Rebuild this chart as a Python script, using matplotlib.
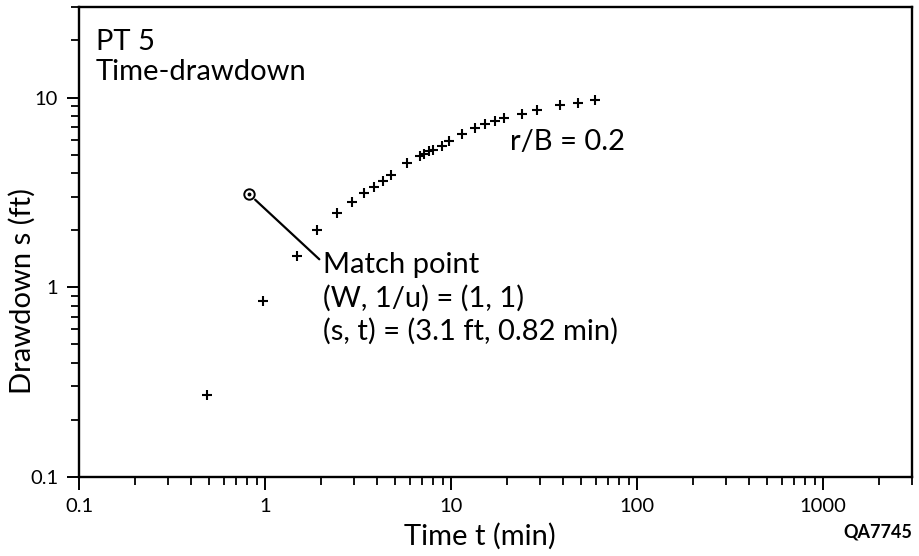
import matplotlib
matplotlib.use("Agg")
import matplotlib.pyplot as plt
from matplotlib.ticker import LogLocator, FixedLocator, FixedFormatter, NullFormatter

plt.rcParams['font.family'] = ['Lato', 'DejaVu Sans']

# time-drawdown readings, PT 5
time_min = [0.49, 0.98, 1.48, 1.91, 2.43, 2.93, 3.42, 3.86, 4.29, 4.74,
            5.82, 6.81, 7.16, 7.64, 7.97, 8.91, 9.79, 11.5, 13.5, 15.3,
            17.3, 19.3, 24.0, 29.1, 38.5, 48.3, 59.4]
drawdown_ft = [0.27, 0.846, 1.46, 2.0, 2.46, 2.81, 3.13, 3.39, 3.62, 3.91,
               4.51, 4.92, 5.06, 5.20, 5.26, 5.52, 5.87, 6.45, 6.92, 7.22,
               7.56, 7.79, 8.23, 8.57, 9.10, 9.41, 9.75]

# match point (s, t)
match_s = 3.1
match_t = 0.82

x_ticks = [0.1, 1, 10, 100, 1000]
x_labels = ['0.1', '1', '10', '100', '1000']
y_ticks = [0.1, 1, 10]
y_labels = ['0.1', '1', '10']

fig = plt.figure(figsize=(9.2, 5.56), dpi=100)
ax = fig.add_axes([79 / 920, 1 - 477 / 556, 833 / 920, 470 / 556])

ax.set_xscale('log')
ax.set_yscale('log')
ax.set_xlim(0.1, 3000)
ax.set_ylim(0.1, 30)

ax.plot(time_min, drawdown_ft, linestyle='none', marker='+', color='black',
        markersize=6.5, markeredgewidth=1.5)

ax.plot([match_t], [match_s], linestyle='none', marker='o', markerfacecolor='none',
        markeredgecolor='black', markersize=7.5, markeredgewidth=1.4)
ax.plot([match_t], [match_s], linestyle='none', marker='o', color='black', markersize=1.8)

ax.annotate('', xy=(match_t, match_s), xycoords='data',
            xytext=(0.2885, 0.4632), textcoords='axes fraction',
            arrowprops=dict(arrowstyle='-', lw=1.6, color='black', shrinkA=0, shrinkB=6))

ax.xaxis.set_major_locator(FixedLocator(x_ticks))
ax.xaxis.set_major_formatter(FixedFormatter(x_labels))
ax.xaxis.set_minor_locator(LogLocator(base=10, subs=range(2, 10)))
ax.xaxis.set_minor_formatter(NullFormatter())
ax.yaxis.set_major_locator(FixedLocator(y_ticks))
ax.yaxis.set_major_formatter(FixedFormatter(y_labels))
ax.yaxis.set_minor_locator(LogLocator(base=10, subs=range(2, 10)))
ax.yaxis.set_minor_formatter(NullFormatter())

ax.tick_params(which='major', direction='out', length=9, width=1.4, labelsize=14.5, pad=6)
ax.tick_params(which='minor', direction='out', length=5.5, width=1.3)
ax.tick_params(top=False, right=False, which='both')
for sp in ax.spines.values():
    sp.set_linewidth(1.7)

txt = dict(color='black', transform=ax.transAxes, va='baseline', ha='left', fontsize=21)
ax.text(0.0204, 0.9085, 'PT 5', **txt)
ax.text(0.0204, 0.8447, 'Time-drawdown', **txt)
ax.text(0.5174, 0.6957, 'r/B = 0.2', **txt)
ax.text(0.2929, 0.4347, 'Match point', **txt)
ax.text(0.2929, 0.3623, '(W, 1/u) = (1, 1)', **txt)
ax.text(0.2929, 0.2915, '(s, t) = (3.1 ft, 0.82 min)', **txt)

fig.text(480 / 920, 1 - 545 / 556, 'Time t (min)', fontsize=21, ha='center', va='baseline')
fig.text(22.5 / 920, 1 - 291 / 556, 'Drawdown s (ft)', fontsize=21, rotation=90,
         ha='center', va='center')
fig.text(912 / 920, 1 - 538 / 556, 'QA7745', fontsize=13, fontweight='bold',
         ha='right', va='baseline')

fig.savefig('out.png', dpi=100)
